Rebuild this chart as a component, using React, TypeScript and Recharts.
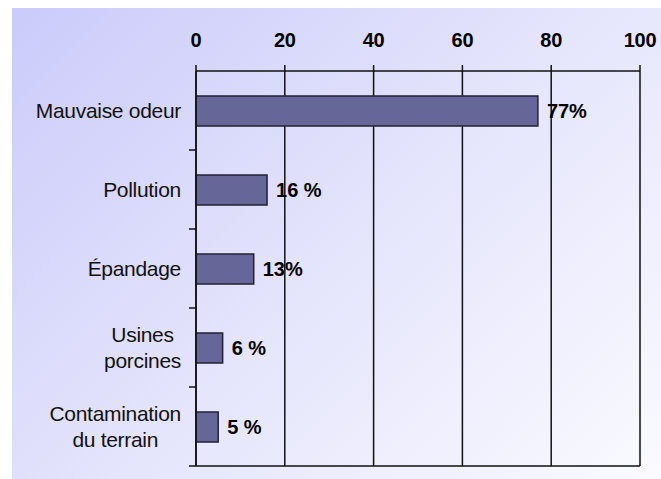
import React from 'react';
import { BarChart, Bar, XAxis, YAxis, CartesianGrid, LabelList } from 'recharts';

const categories = ['Mauvaise odeur', 'Pollution', 'Épandage', 'Usines\nporcines', 'Contamination\ndu terrain'];
const values = [77, 16, 13, 6, 5];
const valueLabels = ['77%', '16 %', '13%', '6 %', '5 %'];
const xTicks = [0, 20, 40, 60, 80, 100];

const data = categories.map((name, i) => ({ name, value: values[i], label: valueLabels[i] }));

const C = {
  bar: '#666699',
  barStroke: '#222233',
  line: '#111111',
  text: '#111111',
};

const FONT = '"Liberation Sans", Arial, sans-serif';
const CAT_SIZE = 21;
const CAT_SPACING = -0.3;

let ctx: CanvasRenderingContext2D | null = null;
function measure(text: string) {
  if (!ctx) {
    ctx = document.createElement('canvas').getContext('2d');
    if (ctx) ctx.font = `${CAT_SIZE}px ${FONT}`;
  }
  const w = ctx ? ctx.measureText(text).width : text.length * 10;
  return w + CAT_SPACING * text.length;
}

// category label + tick mark at the band boundary
function CatTick(props: any) {
  const { x, y, payload } = props;
  const lines = String(payload.value).split('\n');
  const half = payload.offset ?? 39.5;
  const right = x - 15;
  const lh = 26;
  let content;
  if (lines.length === 1) {
    content = (
      <text x={right} y={y + 7} textAnchor="end" fontSize={CAT_SIZE} fontFamily={FONT} fill={C.text} letterSpacing={CAT_SPACING}>
        {lines[0]}
      </text>
    );
  } else {
    const maxW = Math.max(...lines.map(measure));
    const cx = right - maxW / 2;
    content = (
      <text textAnchor="middle" fontSize={CAT_SIZE} fontFamily={FONT} fill={C.text} letterSpacing={CAT_SPACING}>
        {lines.map((l, i) => (
          <tspan key={i} x={cx} y={y + 7 + (i - (lines.length - 1) / 2) * lh}>
            {l}
          </tspan>
        ))}
      </text>
    );
  }
  return (
    <g>
      <line x1={x - 7} x2={x} y1={y + half} y2={y + half} stroke={C.line} strokeWidth={1.5} />
      {content}
    </g>
  );
}

export default function App() {
  return (
    <div
      style={{
        position: 'absolute',
        left: 12,
        top: 8,
        width: 649,
        height: 471,
        background: 'linear-gradient(135deg, #CBCBFB 0%, #E4E4FC 50%, #FAFAFF 100%)',
      }}
    >
      <BarChart
        width={649}
        height={471}
        data={data}
        layout="vertical"
        margin={{ top: 23, right: 21, bottom: 12, left: 10 }}
        barSize={30}
      >
        <CartesianGrid horizontal={false} stroke={C.line} strokeWidth={1.5} strokeDasharray="" />
        <XAxis
          type="number"
          orientation="top"
          domain={[0, 100]}
          ticks={xTicks}
          interval={0}
          height={40}
          tickSize={6}
          tickMargin={18}
          axisLine={{ stroke: C.line, strokeWidth: 1.5 }}
          tickLine={{ stroke: C.line, strokeWidth: 1.5 }}
          tick={{ fill: '#000', fontSize: 20, fontWeight: 'bold', fontFamily: FONT, letterSpacing: -0.3 }}
        />
        <XAxis
          xAxisId="bottom"
          type="number"
          orientation="bottom"
          domain={[0, 100]}
          height={1}
          tick={false}
          tickLine={false}
          axisLine={{ stroke: C.line, strokeWidth: 1.5 }}
        />
        <YAxis
          type="category"
          dataKey="name"
          width={174}
          interval={0}
          tickSize={0}
          tickMargin={0}
          tickLine={false}
          axisLine={{ stroke: C.line, strokeWidth: 1.5 }}
          tick={<CatTick />}
        />
        <Bar dataKey="value" fill={C.bar} stroke={C.barStroke} strokeWidth={1.5} isAnimationActive={false}>
          <LabelList
            dataKey="label"
            position="right"
            offset={9}
            fill="#000"
            fontSize={20}
            fontWeight="bold"
            fontFamily={FONT}
          />
        </Bar>
      </BarChart>
    </div>
  );
}
